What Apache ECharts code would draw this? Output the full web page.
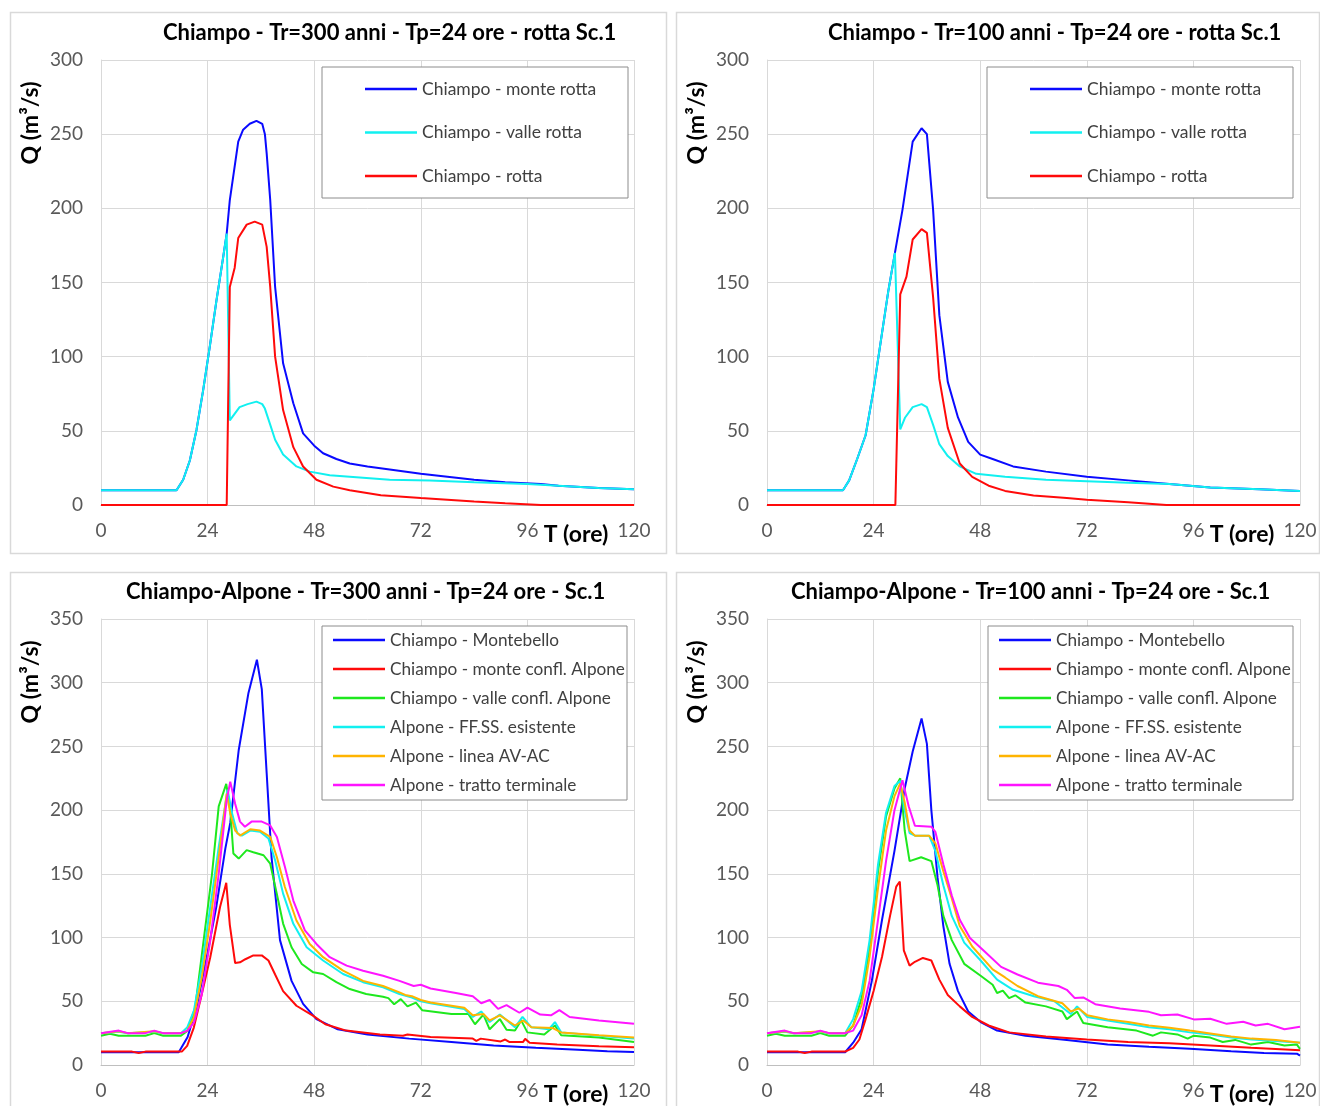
<!DOCTYPE html>
<html>
<head>
<meta charset="utf-8">
<title>Chiampo - Alpone idrogrammi</title>
<script src="https://cdn.jsdelivr.net/npm/echarts@6/dist/echarts.min.js"></script>
<style>
  html, body { margin: 0; padding: 0; background: #ffffff; }
  #chart { width: 1320px; height: 1106px; }
</style>
</head>
<body>
<div id="chart"></div>
<script>
// ---- Tick values ----
const xTicks = [0, 24, 48, 72, 96, 120];
const yMaxTop = 300;
const yMaxBottom = 350;

// ---- Chiampo - Tr=300 anni - rotta Sc.1 : [T (ore), Q (m3/s)] ----
const tr300MonteRotta = [[0,10],[17,10],[18.5,17],[20,30],[21.5,50.6],[23,77.5],[24.5,107],[26,138],[27.5,167],[28.3,183],[29,205.6],[30.9,245],[32,253],[33.5,257],[35,259],[36.3,257],[36.9,250],[37.3,237],[38.1,205.6],[39.2,147],[41,95.5],[43.3,68.6],[45.5,48.3],[48,40],[50,34.9],[53,31],[56,28],[60,26],[65,24],[72,21],[78,19],[84,17],[91,15.4],[99,14.2],[103,13],[112,11.4],[120,10.6]];
const tr300ValleRotta = [[0,10],[17,10],[18.5,17],[20,30],[21.5,50.6],[23,77.5],[24.5,107],[26,138],[27.5,167],[28.3,183],[29,57],[31.2,66],[33,68],[35,69.7],[36.3,68],[36.9,65],[38,55],[39.2,44],[41,34],[44,26],[47,22.5],[51.5,20],[56,19],[65,17],[74,16.5],[84,15.4],[96,14.2],[103,13],[112,11.4],[120,10.6]];
const tr300Rotta = [[0,0],[28.3,0],[29,147],[30.1,160],[30.9,180],[32.8,189],[34.6,191],[36.3,189],[37.3,174],[38.1,147],[39.2,100],[41,64],[43.3,39],[45.5,26],[48.5,17],[52.3,12.4],[56,10],[63,6.6],[72,4.7],[84,2.4],[91,1.2],[99,0],[120,0]];

// ---- Chiampo - Tr=100 anni - rotta Sc.1 ----
const tr100MonteRotta = [[0,10],[17.1,10],[18.5,16.6],[20.3,31],[22.2,47],[24,78],[25.9,116],[27.3,144],[28.8,170],[30.5,199],[32.8,245],[34.8,254],[36,250],[37.4,199],[38.8,128],[40.7,83],[43,59],[45.3,42.6],[48,34],[50.8,31],[55.4,26],[62.8,22.5],[72,19],[81.3,16.6],[90.6,14.2],[99.8,11.8],[110.9,10.6],[120,9.5]];
const tr100ValleRotta = [[0,10],[17.1,10],[18.5,16.6],[20.3,31],[22.2,47],[24,78],[25.9,116],[27.3,144],[28.8,170],[30,51],[31.1,59],[32.8,66],[34.8,68],[36,66],[37.4,54],[38.8,41],[40.7,33],[43.4,26],[47.1,21],[53.6,19],[62.8,17],[72,16],[81.3,15],[90.6,14.2],[99.8,11.8],[110.9,10.6],[120,9.5]];
const tr100Rotta = [[0,0],[28.9,0],[30,142],[31.4,154],[32.8,179],[34.8,186],[36,183.5],[37.4,140],[38.8,85],[40.7,52],[43.4,28],[46.2,19],[49.9,13],[53.6,9.5],[60,6.4],[67.5,4.7],[72,3.6],[81.3,1.9],[89.9,0],[120,0]];

// ---- Chiampo-Alpone - Tr=300 anni - Sc.1 ----
const ca300Montebello = [[0,10],[17.5,10],[19.5,22],[21.5,45],[24,88],[26,125],[28,170],[29.1,190],[31,247],[33.2,292],[35.1,318],[36.2,295],[37.3,229],[38.4,163],[40.3,98],[42.9,66],[45.5,48],[48.5,36],[53.3,28],[60,24],[69.4,20.7],[78.9,18],[88.4,15.3],[97.9,13.5],[107.4,12],[114,10.8],[120,10.2]];
const ca300MonteConfl = [[0,10.5],[7,10.5],[8.5,9.5],[10,10.5],[18.2,10.5],[19.4,15],[20.9,29.4],[22.7,55.7],[24.6,84.6],[26.8,124],[28.2,143],[29,110],[30.2,80],[31.3,80.6],[32.5,83],[34.3,86],[36.2,86],[37.7,82],[39.2,71],[41,58],[44,46.5],[47.8,38.6],[50.5,32],[55.2,27],[62.8,24],[68,23],[69,24],[74.2,22],[83.7,20.7],[84.5,19],[85.5,20.7],[90,18.5],[91,20],[92,18],[95,18],[95.5,20.5],[96.5,17.5],[102.7,16],[112.1,14.8],[120,14]];
const ca300ValleConfl = [[0,23],[2,24.5],[4,23],[10,23],[12,25],[14,23],[18,23],[19.5,27],[21.2,45],[23.1,97.7],[25,150],[26.5,203],[28.2,220.6],[29.1,200],[29.8,166],[31,162],[32.8,168.6],[34.3,167],[36.6,164.6],[38.1,158],[39.6,134],[41,111],[42.9,92.4],[45.2,79.3],[47.8,72.7],[50,71.4],[53,65],[56,59.6],[59.7,55.7],[63.5,53.6],[64.7,52.5],[66,47.7],[67.5,51.7],[69,46],[70.9,49],[72.3,43],[78.9,40],[82.7,40],[84.2,32],[86.1,39.6],[87.5,28],[89.8,36],[91.3,27.7],[93.2,27],[94.6,35],[96,25.6],[99.8,24],[102.2,31],[103.6,23.4],[112.1,21.5],[120,18]];
const ca300FFSS = [[0,25],[4,26],[6,25],[12,26],[14,25],[18,25],[19.4,29.4],[20.9,42.5],[22.7,76.7],[24.6,124],[26.5,171],[28.5,216],[29.5,197.5],[30.7,181.7],[31.7,180],[33.6,184],[35.8,183],[37.7,177.8],[39.2,160.7],[41,134.5],[43.3,110.8],[46.3,92.4],[50,82],[54.5,71.4],[59,65],[63.5,61],[67.2,55.7],[70,53],[72,50],[74.2,48.5],[81.8,44],[83.7,37.7],[85.6,42],[87.5,33.7],[89.8,39.6],[93.2,29.6],[94.9,37.7],[96.9,29.6],[100.8,28],[102.2,33.7],[103.6,25.6],[112.1,23],[120,20.7]];
const ca300AVAC = [[0,25],[4,26.5],[6,25],[12,26.5],[14,25],[18,25],[19.4,26.8],[20.9,37.3],[22.7,68.8],[24.6,113],[26.5,163],[28.3,213],[29.1,197.5],[30.2,184],[31.3,180],[33.6,185],[35.8,184],[38.1,179],[39.6,163],[41.4,139.7],[44,113.4],[47,95],[50,84.6],[54.5,74],[59,66],[63.5,62],[67.2,57],[68.5,55],[70,54],[72,51],[74.2,49],[81.8,45],[83.7,39],[86.1,40],[87.5,35],[89.8,39],[93.2,31],[95.1,35],[96.9,29.6],[101.7,29],[103.6,25.6],[112.1,23.4],[120,21.5]];
const ca300Terminale = [[0,25],[4,27],[6,25],[10,25],[12,27],[14,25],[18,25],[19.4,26.8],[20.9,33],[22.7,55.7],[24.6,97.7],[26.5,150],[28.3,208],[29.1,222.4],[30.2,205],[31.3,191],[32.4,187],[33.9,191],[36.2,191],[38.1,188],[39.6,179],[41.4,155.5],[43.3,129],[45.9,105.6],[48.5,95],[51.5,84.6],[55.3,78],[59,74],[63.5,70],[67.2,66],[70.4,62],[72,63],[74.2,60],[79.9,56.5],[83.7,54],[85.6,48.5],[87.5,51],[89.4,44],[91.3,47],[94.2,41],[96,45],[98.9,39.6],[101.3,39],[103.2,43],[105.5,37.7],[112.1,35],[120,32.3]];

// ---- Chiampo-Alpone - Tr=100 anni - Sc.1 ----
const ca100Montebello = [[0,10],[17.6,10],[19.4,17.5],[21.3,28],[23.6,66],[25.9,114],[28.7,168],[31,217],[32.8,246],[34.8,272],[36,252],[37,200],[38.4,147],[39.7,109],[41.1,79.4],[43,58],[45.3,42],[48.1,33.7],[51.8,27],[58.2,23],[67.5,19.7],[76.7,16],[86,14.3],[95.2,12.7],[104.5,10.8],[111.9,9.4],[119.3,8.9],[120,7.3]];
const ca100MonteConfl = [[0,10.5],[7,10.5],[8.5,9.5],[10,10.5],[17.6,10.5],[19.4,13.5],[20.8,20],[22.2,36],[24,58],[25.9,85],[27.7,117],[29.1,140],[29.9,144],[30.8,90],[32.1,78],[33.3,81],[35.1,84],[37,82],[38.8,67],[40.7,55],[43.4,46],[46.2,37.7],[49.9,31],[54.5,25.6],[62.8,22.3],[72,20],[81.3,18],[90.6,17],[99.8,15.3],[109,13.5],[120,11.6]];
const ca100ValleConfl = [[0,23],[2,24.5],[4,23],[10,23],[12,25],[14,23],[17.6,23],[19.4,31],[21.3,52.5],[23.1,93],[25,152],[26.8,195],[28.7,217],[30,225],[31,184],[32.1,160],[34.7,163],[37,160],[38.4,141],[39.7,117],[41.6,98],[44.4,79.4],[48.1,70],[50.8,63],[51.8,56.5],[53.1,58.4],[54.5,52.5],[55.9,54.7],[58.2,49],[62.8,46],[66.5,42],[67.5,36],[69.8,42],[71.2,33],[76.7,29.6],[83.2,27],[86.9,23],[88.7,25.6],[92.4,24],[94.7,20.7],[96.1,23],[99.8,21.5],[102.6,18],[105.4,19.7],[109,16],[112.8,18],[116.5,15.3],[119.3,16],[120,12.7]];
const ca100FFSS = [[0,25],[4,26],[6,25],[12,26],[14,25],[17.6,25],[19.4,36],[21.3,58],[23.1,98],[25,157.5],[26.8,198],[28.7,219],[30,223],[31,200],[32.1,182],[33.3,180],[36.5,180],[37.9,168],[39.7,141],[41.6,117],[44.4,96],[48.1,82],[51.8,67],[55.4,59],[60.1,54],[64.7,50],[68.4,40],[69.8,46],[72.1,37.7],[76.7,35],[81.3,32.3],[86,29.6],[90.6,28],[95.2,25.6],[99.8,24],[104.5,21.5],[109.1,20],[113.7,19],[120,17.5]];
const ca100AVAC = [[0,25],[4,26.5],[6,25],[12,26.5],[14,25],[17.6,25],[19.4,31],[21.3,47],[23.1,85],[25,139],[26.8,184],[28.7,211],[30,221],[31,206],[32.1,184],[33.3,180],[36.5,180],[37.9,174],[39.7,152],[41.6,130.6],[43.4,109],[46.2,93],[50.8,75],[53.6,68.7],[56.4,62],[61,54],[66.5,48.5],[68.4,42],[70.2,44.4],[72.1,39],[76.7,35.8],[81.3,33.7],[86,31],[90.6,29.3],[95.2,27],[99.8,24.8],[104.5,22.3],[109.1,20.7],[114.6,19.7],[120,17.5]];
const ca100Terminale = [[0,25],[4,27],[6,25],[10,25],[12,27],[14,25],[17.6,25],[19.4,27],[21.3,39],[23.1,66],[25,114],[26.8,160],[28.7,200],[30.5,223.5],[31.9,203],[33.3,187.7],[37,187],[37.9,183],[39.7,157.5],[41.6,133],[43.4,114],[45.7,99.6],[49,89],[52.7,77],[56.4,71],[61,64.6],[65.6,62],[67.5,59],[69.3,52.5],[71.2,53],[73.9,47.7],[79.5,44.4],[86,41.7],[88.7,39],[92.4,39.6],[96.1,35.8],[99.8,36.3],[103.5,32.3],[107.2,34],[110,31],[112.8,32.3],[116.5,28],[120,30]];

// ---- Series names and titles ----
const namesRotta = ['Chiampo - monte rotta', 'Chiampo - valle rotta', 'Chiampo - rotta'];
const namesAlpone = ['Chiampo - Montebello', 'Chiampo - monte confl. Alpone', 'Chiampo - valle confl. Alpone',
                     'Alpone - FF.SS. esistente', 'Alpone - linea AV-AC', 'Alpone - tratto terminale'];
const panelTitles = [
  'Chiampo - Tr=300 anni - Tp=24 ore - rotta Sc.1',
  'Chiampo - Tr=100 anni - Tp=24 ore - rotta Sc.1',
  'Chiampo-Alpone - Tr=300 anni - Tp=24 ore - Sc.1',
  'Chiampo-Alpone - Tr=100 anni - Tp=24 ore - Sc.1'
];
const yName = 'Q (m\u00B3/s)';
const xName = 'T (ore)';

// ---- Drawing ----
const FONT = 'Lato';
const colorsRotta = ['#0a0aff', '#11f0f0', '#ff0a0a'];
const colorsAlpone = ['#0a0aff', '#ff0a0a', '#1ee81e', '#11f0f0', '#ffb400', '#ff14ff'];

const panels = [
  { grid: { left: 101, top: 60, width: 533, height: 445 }, yMax: yMaxTop,
    box: { x: 10.5, y: 12.5, w: 656, h: 541 }, titleLeft: 163, titleTop: 22,
    names: namesRotta, colors: colorsRotta,
    data: [tr300MonteRotta, tr300ValleRotta, tr300Rotta], legend: 'rotta', legendLeft: 322, legendTop: 67 },
  { grid: { left: 767, top: 60, width: 533, height: 445 }, yMax: yMaxTop,
    box: { x: 676.5, y: 12.5, w: 643, h: 541 }, titleLeft: 828, titleTop: 22,
    names: namesRotta, colors: colorsRotta,
    data: [tr100MonteRotta, tr100ValleRotta, tr100Rotta], legend: 'rotta', legendLeft: 987, legendTop: 67 },
  { grid: { left: 101, top: 619, width: 533, height: 446 }, yMax: yMaxBottom,
    box: { x: 10.5, y: 572.5, w: 656, h: 545 }, titleLeft: 126, titleTop: 581,
    names: namesAlpone, colors: colorsAlpone,
    data: [ca300Montebello, ca300MonteConfl, ca300ValleConfl, ca300FFSS, ca300AVAC, ca300Terminale], legend: 'alpone', legendLeft: 322, legendTop: 626 },
  { grid: { left: 767, top: 619, width: 533, height: 446 }, yMax: yMaxBottom,
    box: { x: 676.5, y: 572.5, w: 643, h: 545 }, titleLeft: 791, titleTop: 581,
    names: namesAlpone, colors: colorsAlpone,
    data: [ca100Montebello, ca100MonteConfl, ca100ValleConfl, ca100FFSS, ca100AVAC, ca100Terminale], legend: 'alpone', legendLeft: 988, legendTop: 626 }
];

const option = {
  animation: false,
  backgroundColor: '#ffffff',
  textStyle: { fontFamily: FONT },
  title: [], grid: [], xAxis: [], yAxis: [], legend: [], series: [], graphic: []
};

panels.forEach((p, i) => {
  option.graphic.push({
    type: 'rect', silent: true, z: -1,
    shape: { x: p.box.x, y: p.box.y, width: p.box.w, height: p.box.h },
    style: { fill: '#ffffff', stroke: '#d9d9d9', lineWidth: 1.5 }
  });
  option.title.push({
    text: panelTitles[i], left: p.titleLeft, top: p.titleTop, padding: 0,
    textStyle: { fontFamily: FONT, fontSize: 22, fontWeight: 'bold', color: '#000000' }
  });
  option.grid.push(Object.assign({ containLabel: false, show: false }, p.grid));
  option.xAxis.push({
    type: 'value', gridIndex: i, min: xTicks[0], max: xTicks[xTicks.length - 1], interval: 24,
    axisLine: { show: true, lineStyle: { color: '#bfbfbf', width: 1 } },
    axisTick: { show: false },
    axisLabel: { color: '#595959', fontSize: 19, fontFamily: FONT, margin: 16 },
    splitLine: { show: true, lineStyle: { color: '#d9d9d9', width: 1 } }
  });
  option.yAxis.push({
    type: 'value', gridIndex: i, min: 0, max: p.yMax, interval: 50,
    axisLine: { show: true, lineStyle: { color: '#d9d9d9', width: 1 } },
    axisTick: { show: false },
    axisLabel: { color: '#595959', fontSize: 19, fontFamily: FONT, margin: 18 },
    splitLine: { show: true, lineStyle: { color: '#d9d9d9', width: 1 } }
  });
  const isRotta = p.legend === 'rotta';
  option.legend.push({
    orient: 'vertical', left: p.legendLeft, top: p.legendTop,
    padding: isRotta ? [12, 10, 12, 43] : [4, 1, 5, 11],
    itemGap: isRotta ? 23.5 : 9,
    itemWidth: 52, itemHeight: 2.5, icon: 'rect',
    selectedMode: false,
    borderColor: '#8c8c8c', borderWidth: 1, backgroundColor: '#ffffff',
    textStyle: { fontFamily: FONT, fontSize: isRotta ? 17.5 : 17.2, color: '#404040', lineHeight: 20,
                 width: isRotta ? 196 : 236, overflow: 'none' },
    data: p.names.map((n, k) => ({ name: n, itemStyle: { color: p.colors[k] } }))
  });
  p.data.forEach((d, k) => {
    option.series.push({
      type: 'line', name: p.names[k], xAxisIndex: i, yAxisIndex: i,
      data: d, symbol: 'none', smooth: false,
      color: p.colors[k],
      lineStyle: { color: p.colors[k], width: 2 },
      emphasis: { disabled: true }
    });
  });
  // axis titles
  option.graphic.push({
    type: 'text', silent: true, z: 10,
    x: p.grid.left - 70, y: p.grid.top + 63, rotation: Math.PI / 2,
    style: { text: yName, fontFamily: FONT, fontSize: 23, fontWeight: 'bold', fill: '#000000',
             align: 'center', verticalAlign: 'middle' }
  });
  option.graphic.push({
    type: 'text', silent: true, z: 10,
    x: p.grid.left + 475, y: p.grid.top + p.grid.height + 30,
    style: { text: xName, fontFamily: FONT, fontSize: 23, fontWeight: 'bold', fill: '#000000',
             align: 'center', verticalAlign: 'middle' }
  });
});

const chart = echarts.init(document.getElementById('chart'), null, { renderer: 'canvas' });
chart.setOption(option);
</script>
</body>
</html>
